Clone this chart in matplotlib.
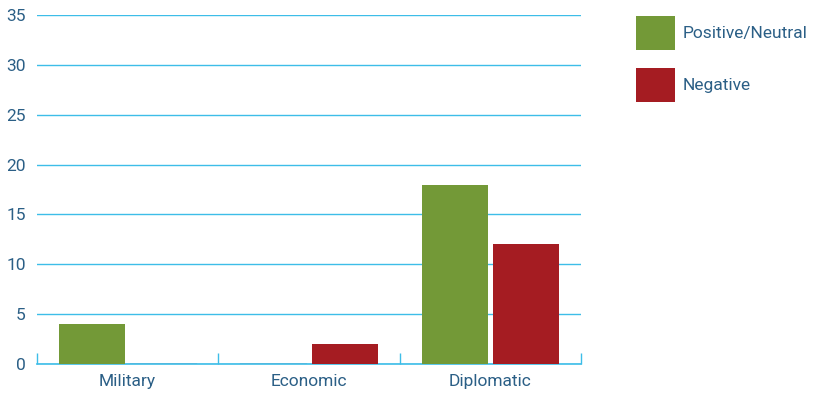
import numpy as np
import matplotlib
matplotlib.use("Agg")
import matplotlib.pyplot as plt
from matplotlib.patches import Rectangle

categories = ["Military", "Economic", "Diplomatic"]
positive = [4, 0, 18]
negative = [0, 2, 12]
series_names = ["Positive/Neutral", "Negative"]

green = "#739937"
red = "#a51c22"
grid_blue = "#3dbde8"
text_blue = "#2b5f86"

plt.rcParams['font.family'] = ['Roboto', 'DejaVu Sans']

fig = plt.figure(figsize=(8.16, 3.93), dpi=100)
ax = fig.add_axes([0.0453, 0.0738, 0.6667, 0.888])

x = np.arange(len(categories))
w = 0.364
ax.bar(x - 0.197, positive, w, color=green, zorder=3)
ax.bar(x + 0.197, negative, w, color=red, zorder=3)
# zero-height bars still show as a thin line on the baseline
for xi, v in zip(x - 0.197, positive):
    if v == 0:
        ax.plot([xi - w / 2, xi + w / 2], [0.04, 0.04], color="#2a6a94", lw=0.9, zorder=4)
for xi, v in zip(x + 0.197, negative):
    if v == 0:
        ax.plot([xi - w / 2, xi + w / 2], [0.04, 0.04], color="#2a6a94", lw=0.9, zorder=4)

ax.set_xlim(-0.5, 2.5)
ax.set_ylim(0, 35)
ax.set_yticks(range(0, 36, 5))
ax.yaxis.grid(True, color=grid_blue, linewidth=1.0, zorder=0)
ax.set_axisbelow(True)

ax.set_xticks(x)
ax.set_xticklabels(categories)
ax.set_xticks([-0.5, 0.5, 1.5, 2.5], minor=True)
ax.tick_params(axis="x", which="major", length=0, pad=7, labelsize=12.5, labelcolor=text_blue)
ax.tick_params(axis="x", which="minor", direction="in", length=8, width=1.0, color=grid_blue)
ax.tick_params(axis="y", length=0, pad=8, labelsize=12.5, labelcolor=text_blue)

for side in ["top", "right", "left"]:
    ax.spines[side].set_visible(False)
ax.spines["bottom"].set_color(grid_blue)
ax.spines["bottom"].set_linewidth(1.2)

# legend: colour swatches with labels to the right of the plot
for i, (name, col) in enumerate(zip(series_names, [green, red])):
    y0 = 0.8728 - i * 0.1323
    fig.add_artist(Rectangle((0.7794, y0), 0.0478, 0.0865, transform=fig.transFigure,
                             facecolor=col, edgecolor="none"))
    fig.text(0.837, y0 + 0.0432, name, color=text_blue, fontsize=12.5, va="center", ha="left")

fig.savefig("out.png", dpi=100)
